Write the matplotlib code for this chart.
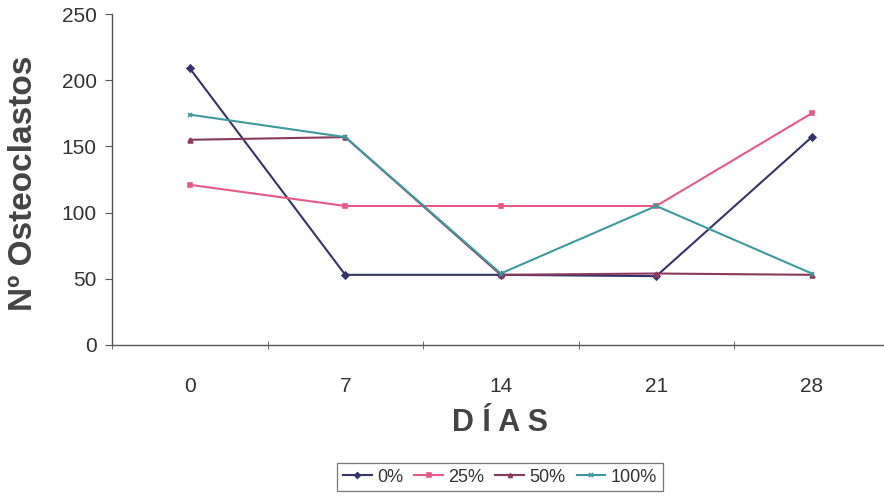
import matplotlib
matplotlib.use("Agg")
import matplotlib.pyplot as plt
import numpy as np

days = ["0", "7", "14", "21", "28"]
series_labels = ["0%", "25%", "50%", "100%"]
s0 = [209, 53, 53, 52, 157]
s25 = [121, 105, 105, 105, 175]
s50 = [155, 157, 53, 54, 53]
s100 = [174, 157, 54, 105, 54]
yticks = [0, 50, 100, 150, 200, 250]

colors = ["#34346a", "#e65a86", "#8a3a5c", "#3f9a9e"]
markers = ["D", "s", "^", "x"]

plt.rcParams['font.family'] = ['Liberation Sans', 'DejaVu Sans']

fig = plt.figure(figsize=(8.84, 4.97), dpi=100)
ax = fig.add_axes([112/884, 152/497, 777.5/884, 331/497])

x = np.arange(len(days))
for vals, lab, c, m in zip([s0, s25, s50, s100], series_labels, colors, markers):
    ax.plot(x, vals, color=c, lw=1.5, marker=m, ms=3.5, mew=1.2, label=lab)

ax.set_xlim(-0.5, len(days) - 0.5)
ax.set_ylim(0, 250)
ax.set_yticks(yticks)
ax.set_xticks(x)
ax.set_xticklabels(days)
ax.set_xticks(np.arange(-0.5, len(days), 1), minor=True)
ax.tick_params(axis='x', which='major', length=0, pad=23, labelsize=15, labelcolor='#333333')
ax.tick_params(axis='x', which='minor', length=6, direction='inout', color='#555555')
ax.tick_params(axis='y', length=5, direction='out', pad=6, labelsize=15, labelcolor='#333333', color='#555555')

for s in ['top', 'right']:
    ax.spines[s].set_visible(False)
for s in ['left', 'bottom']:
    ax.spines[s].set_color('#555555')
    ax.spines[s].set_linewidth(1.0)

fig.text(24/884, 1 - 183/497, "Nº Osteoclastos", rotation=90, ha='center', va='center',
         fontsize=24, fontweight='bold', color='#444444')
fig.text(500/884, 1 - 423/497, "D Í A S", ha='center', va='center',
         fontsize=22, fontweight='bold', color='#444444')

leg = fig.legend(loc='center', bbox_to_anchor=(500/884, 1 - 477/497), ncol=4,
                 frameon=True, fancybox=False, fontsize=13, handlelength=1.6,
                 handletextpad=0.3, columnspacing=0.6, borderpad=0.3,
                 markerscale=0.8)
leg.get_frame().set_edgecolor('#555555')
leg.get_frame().set_linewidth(0.9)
for t in leg.get_texts():
    t.set_color('#333333')

fig.savefig("out.png", dpi=100)
